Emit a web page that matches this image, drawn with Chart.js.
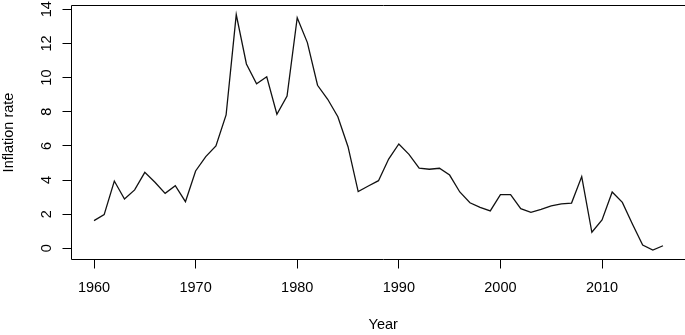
<!DOCTYPE html>
<html>
<head>
<meta charset="utf-8">
<script src="https://cdn.jsdelivr.net/npm/chart.js@4/dist/chart.umd.min.js"></script>
<style>
  html, body { margin: 0; padding: 0; background: #fff; overflow: hidden; }
  #wrap { width: 710px; height: 335px; }
</style>
</head>
<body>
<div id="wrap"><canvas id="c" width="710" height="335"></canvas></div>
<script>
const years = [1960,1961,1962,1963,1964,1965,1966,1967,1968,1969,
               1970,1971,1972,1973,1974,1975,1976,1977,1978,1979,
               1980,1981,1982,1983,1984,1985,1986,1987,1988,1989,
               1990,1991,1992,1993,1994,1995,1996,1997,1998,1999,
               2000,2001,2002,2003,2004,2005,2006,2007,2008,2009,
               2010,2011,2012,2013,2014,2015,2016];
const inflation = [1.62,1.97,3.94,2.89,3.42,4.45,3.87,3.22,3.67,2.73,
                   4.53,5.37,6.00,7.81,13.69,10.80,9.64,10.05,7.85,8.92,
                   13.51,12.05,9.55,8.73,7.71,5.95,3.32,3.65,3.96,5.23,
                   6.11,5.50,4.69,4.63,4.69,4.29,3.30,2.67,2.40,2.19,
                   3.14,3.14,2.32,2.11,2.28,2.48,2.60,2.65,4.20,0.94,
                   1.66,3.30,2.69,1.41,0.19,-0.10,0.15];
const xTicks = [1960,1970,1980,1990,2000,2010];
const yTicks = [0,2,4,6,8,10,12,14];
const xTitle = 'Year';
const yTitle = 'Inflation rate';

const FONT = 'Liberation Sans, Arial, Helvetica, sans-serif';
const FS = 14.5;

const boxPlugin = {
  id: 'rbox',
  afterDraw(chart) {
    const ctx = chart.ctx;
    const a = chart.chartArea;
    ctx.save();
    ctx.strokeStyle = '#000';
    ctx.lineWidth = 1;
    const l = Math.round(a.left) - 0.5 + 0.5 * 0;
    ctx.beginPath();
    ctx.rect(Math.floor(a.left) + 0.5, Math.floor(a.top) + 0.5,
             Math.floor(a.right) - Math.floor(a.left), Math.floor(a.bottom) - Math.floor(a.top));
    ctx.stroke();
    // rotated y tick labels (R style, parallel to axis)
    const ys = chart.scales.y;
    ctx.fillStyle = '#000';
    ctx.font = FS + 'px ' + FONT;
    ctx.textAlign = 'center';
    ctx.textBaseline = 'alphabetic';
    yTicks.forEach(v => {
      const py = ys.getPixelForValue(v);
      ctx.save();
      ctx.translate(ys.right - 20.5, py);
      ctx.rotate(-Math.PI / 2);
      ctx.fillText(String(v), 0, 0);
      ctx.restore();
    });
    ctx.restore();
  }
};

new Chart(document.getElementById('c'), {
  type: 'line',
  data: {
    datasets: [{
      data: years.map((y, i) => ({ x: y, y: inflation[i] })),
      borderColor: '#111',
      borderWidth: 1.3,
      pointRadius: 0,
      tension: 0,
      fill: false
    }]
  },
  options: {
    responsive: false,
    devicePixelRatio: 1,
    animation: false,
    layout: { padding: { left: 0, top: 5.5, right: 15, bottom: 0 } },
    plugins: { legend: { display: false }, tooltip: { enabled: false } },
    scales: {
      x: {
        type: 'linear',
        position: 'bottom',
        min: 1957.785,
        max: 2019.15,
        afterBuildTicks: s => { s.ticks = xTicks.map(v => ({ value: v })); },
        afterFit: s => { s.height = 75.5; },
        border: { display: false },
        grid: { drawOnChartArea: false, drawTicks: true, tickLength: 9, color: '#000', lineWidth: 1 },
        ticks: {
          padding: 11.1,
          maxRotation: 0, minRotation: 0,
          color: '#000',
          font: { family: FONT, size: FS },
          callback: v => String(v)
        },
        title: {
          display: true, text: xTitle, color: '#000',
          font: { family: FONT, size: FS },
          padding: { top: 0, bottom: 1.4 }
        }
      },
      y: {
        type: 'linear',
        position: 'left',
        min: -0.656,
        max: 14.223,
        afterBuildTicks: s => { s.ticks = yTicks.map(v => ({ value: v })); },
        afterFit: s => { s.width = 71.5; },
        border: { display: false },
        grid: { drawOnChartArea: false, drawTicks: true, tickLength: 9, color: '#000', lineWidth: 1 },
        ticks: { display: false },
        title: {
          display: true, text: yTitle, color: '#000',
          font: { family: FONT, size: FS },
          padding: { top: 0.7, bottom: 0 }
        }
      }
    }
  },
  plugins: [boxPlugin]
});
</script>
</body>
</html>
